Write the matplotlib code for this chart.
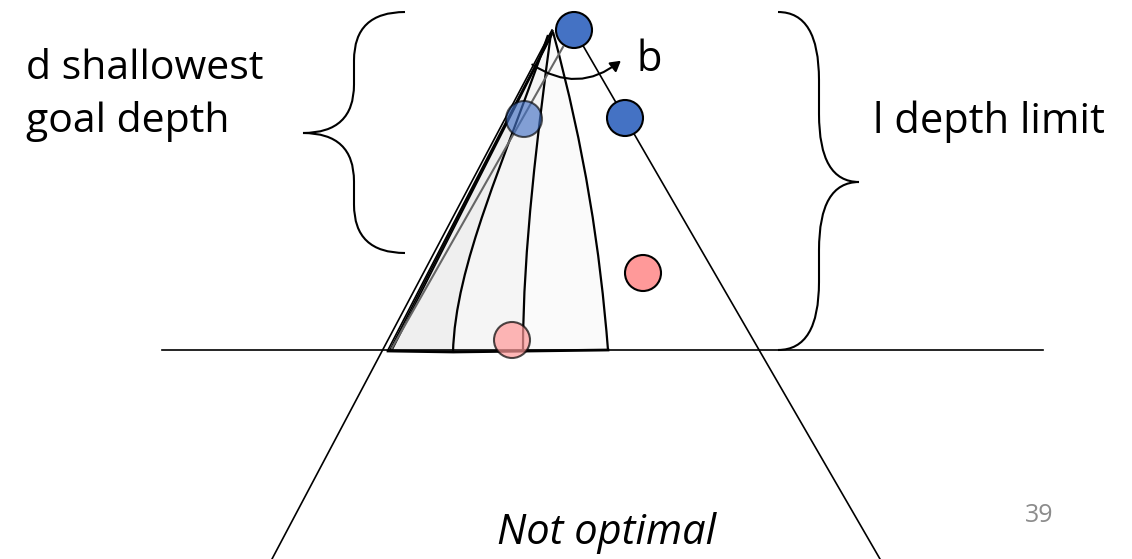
import matplotlib
matplotlib.use("Agg")
import matplotlib.pyplot as plt
from matplotlib.path import Path
from matplotlib.patches import PathPatch, Circle, FancyArrowPatch

plt.rcParams['font.family'] = ['Open Sans', 'DejaVu Sans']

# tree nodes (x, y, face colour, alpha) in slide pixels
node_x = [574, 625, 524, 643, 512]
node_y = [30, 118, 119, 273, 340]
node_col = ['#4472C4', '#4472C4', '#4472C4', '#FF9999', '#FF9999']
node_alpha = [1.0, 1.0, 0.65, 1.0, 0.7]
node_r = 18

# depth-limit line
limit_y = 350
limit_x = [162, 1043]

# outer tree edges
left_edge_x = [552, 272]
left_edge_y = [30, 559]
right_edge_x = [574, 880]
right_edge_y = [30, 559]

# iterative-deepening cone boundaries (cubic bezier: start, ctrl, ctrl, end)
cone_a = [(548, 35), (505, 160), (455, 265), (453, 353)]
cone_b = [(551, 33), (538, 130), (523, 250), (523, 350)]
cone_c = [(553, 32), (585, 150), (600, 250), (608, 350)]
base_left = (388, 351)

fig = plt.figure(figsize=(11.32, 5.59), dpi=100)
ax = fig.add_axes([0, 0, 1, 1])
ax.set_xlim(0, 1132)
ax.set_ylim(559, 0)
ax.axis('off')

C4 = [Path.MOVETO, Path.CURVE4, Path.CURVE4, Path.CURVE4]


def cone_patch(curve, fc):
    verts = curve + [base_left, curve[0]]
    codes = C4 + [Path.LINETO, Path.CLOSEPOLY]
    ax.add_patch(PathPatch(Path(verts, codes), fc=fc, ec='none', zorder=1))


cone_patch(cone_c, '#FAFAFA')
cone_patch(cone_b, '#F5F5F5')
cone_patch(cone_a, '#EFEFEF')

for cone in (cone_a, cone_b, cone_c):
    ax.add_patch(PathPatch(Path(cone, C4), fc='none', ec='black', lw=1.6, zorder=2))

# bundle of edges at left of cones
for dx in (0, 2, 4):
    ax.plot([553 - dx * 0.3, 388 + dx], [31 + dx, 350], color='black', lw=1.2, zorder=2)
ax.plot([563, 392], [47, 348], color='#666666', lw=1.5, zorder=2)
ax.plot([388, 453, 608], [351, 352, 350], color='black', lw=2, zorder=2)

ax.plot(left_edge_x, left_edge_y, color='black', lw=1.2, zorder=2)
ax.plot(right_edge_x, right_edge_y, color='black', lw=1.2, zorder=2)
ax.plot(limit_x, [limit_y, limit_y], color='black', lw=1.2, zorder=2)

for x, y, c, a in zip(node_x, node_y, node_col, node_alpha):
    ax.add_patch(Circle((x, y), node_r, fc=c, ec='black', lw=1.5, alpha=a, zorder=3))


def brace(x_end, x_mid, x_tip, y_top, y_tip, y_bot):
    r = (y_tip - y_top) * 0.4
    verts = [(x_end, y_top), (x_mid, y_top), (x_mid, y_top + r),
             (x_mid, y_tip - r),
             (x_mid, y_tip), (x_tip, y_tip),
             (x_mid, y_tip), (x_mid, y_tip + r),
             (x_mid, y_bot - r),
             (x_mid, y_bot), (x_end, y_bot)]
    codes = [Path.MOVETO, Path.CURVE3, Path.CURVE3, Path.LINETO,
             Path.CURVE3, Path.CURVE3, Path.CURVE3, Path.CURVE3,
             Path.LINETO, Path.CURVE3, Path.CURVE3]
    ax.add_patch(PathPatch(Path(verts, codes), fc='none', ec='black', lw=1.5))


brace(405, 354, 303, 12, 133, 253)
brace(778, 819, 859, 12, 182, 350)

ax.add_patch(FancyArrowPatch((530, 63), (623, 59), connectionstyle='arc3,rad=0.38',
                             arrowstyle='-|>,head_length=6,head_width=3.5',
                             color='black', lw=1.5, zorder=4))

ax.text(636, 60, 'b', fontsize=30, va='center', ha='left')
ax.text(26, 69, 'd shallowest', fontsize=29.5, va='center', ha='left')
ax.text(26, 122, 'goal depth', fontsize=29.5, va='center', ha='left')
ax.text(873, 122, 'l depth limit', fontsize=30, va='center', ha='left')
ax.text(607, 533, 'Not optimal', fontsize=30, style='italic', va='center', ha='center')
ax.text(1039, 515, '39', fontsize=18, color='#8C8C8C', va='center', ha='center')

fig.savefig('out.png', dpi=100)
